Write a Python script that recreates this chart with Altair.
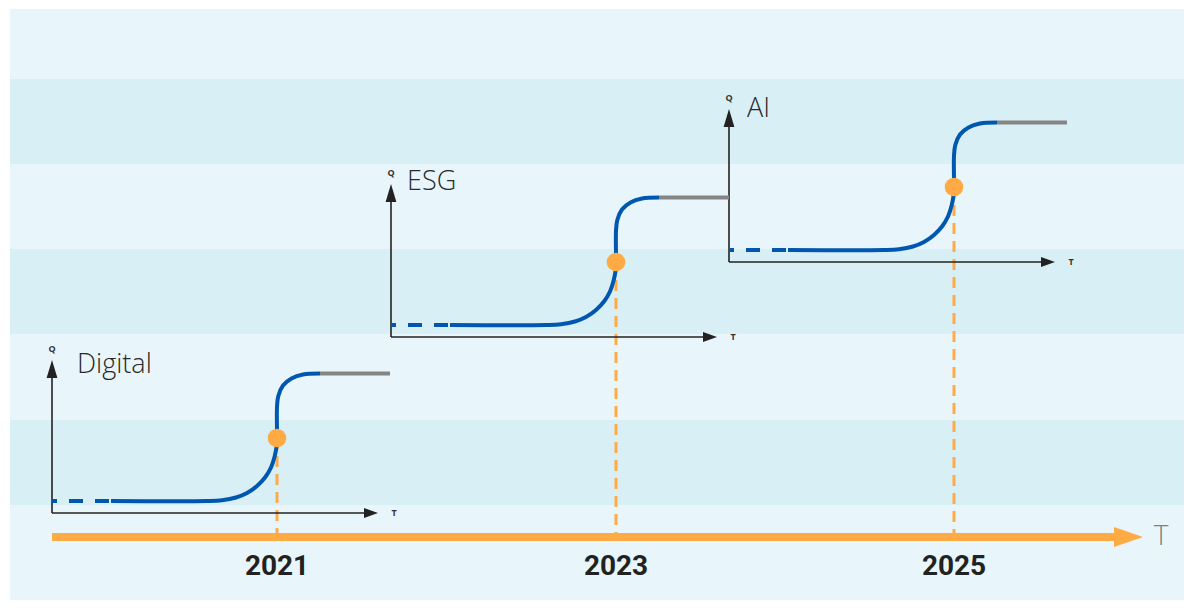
import altair as alt
import pandas as pd

# ---------------- data ----------------
years = [2021, 2023, 2025]
topics = ["Digital", "ESG", "AI"]
# origin of each small Q/T diagram (page pixels)
origin_x = [52, 391, 729]
origin_y = [513, 337, 262]
# title offset of each small diagram relative to its origin
title_dx = [25, 16, 18]
title_dy = [140, 147, 145]

# S-curve template: T offset (right) and Q offset (up) from the small origin
curve_t = [59, 155, 170, 184, 195, 205, 213, 219, 222.5, 224.5, 225, 225, 226.3, 231, 239.5, 251, 268]
curve_q = [12, 12, 12.8, 15.5, 20, 27, 35.5, 45.5, 56, 66, 75, 106, 117, 127.5, 134.5, 138.5, 139.5]
dash_t = [0, 59]          # dashed beginning of the curve
plateau_t = [268, 338]    # grey plateau
plateau_q = 139.5
dot_t, dot_q = 225, 75
q_axis_len = 153
t_axis_len = 326

# background bands (page pixels)
band_top = [9, 79, 164, 249, 334, 420, 505]
band_bottom = [79, 164, 249, 334, 420, 505, 608]
band_shade = ["light", "dark", "light", "dark", "light", "dark", "light"]

timeline_y = 537
timeline_x = [52, 1114]
year_label_y = 567

ORANGE = "#FFAB45"
BLUE = "#0057B0"
GREY = "#858585"
INK = "#222222"

W, H = 1176, 592
X = alt.Scale(domain=[8, 8 + W], nice=False, zero=False)
Y = alt.Scale(domain=[8, 8 + H], nice=False, zero=False, reverse=True)


def xq(f):
    return alt.X(f"{f}:Q", scale=X, axis=None)


def yq(f):
    return alt.Y(f"{f}:Q", scale=Y, axis=None)


# ---------------- tables ----------------
bands = pd.DataFrame({"x0": 10, "x1": 8 + W, "y0": band_top,
                      "y1": [min(b, 8 + H) for b in band_bottom], "shade": band_shade})

rows = []
for i, tp in enumerate(topics):
    ox, oy = origin_x[i], origin_y[i]
    rows.append(dict(
        topic=tp, year=str(years[i]), ox=ox, oy=oy,
        dot_x=ox + dot_t, dot_y=oy - dot_q,
        qhead_y=oy - q_axis_len + 9, thead_x=ox + t_axis_len - 7,
        dash_x0=ox + dash_t[0], dash_x1=ox + dash_t[1], dash_y=oy - curve_q[0],
        pl_x0=ox + plateau_t[0], pl_x1=ox + plateau_t[1], pl_y=oy - plateau_q,
        title_x=ox + title_dx[i], title_y=oy - title_dy[i],
        qlab_y=oy - q_axis_len - 11, tlab_x=ox + t_axis_len + 16,
        tl_y=timeline_y, ylab_y=year_label_y,
    ))
panels = pd.DataFrame(rows)

crows = []
for i, tp in enumerate(topics):
    for k, (t, q) in enumerate(zip(curve_t, curve_q)):
        crows.append(dict(topic=tp, k=k, x=origin_x[i] + t, y=origin_y[i] - q))
curve = pd.DataFrame(crows)

timeline = pd.DataFrame({"x0": [timeline_x[0]], "x1": [timeline_x[1]], "y": [timeline_y],
                         "hx": [timeline_x[1] + 14.5], "lx": [1161], "lab": ["T"]})

# ---------------- layers ----------------
bg = alt.Chart(bands).mark_rect().encode(
    x=xq("x0"), x2="x1", y=yq("y0"), y2="y1",
    color=alt.Color("shade:N", scale=alt.Scale(domain=["light", "dark"], range=["#E8F6FB", "#D9EFF6"]), legend=None),
)

base = alt.Chart(panels)

drop = base.mark_rule(color=ORANGE, strokeWidth=3, strokeDash=[11, 7]).encode(
    x=xq("dot_x"), y=yq("dot_y"), y2="tl_y")

q_axis = base.mark_rule(color=INK, strokeWidth=1.6).encode(x=xq("ox"), y=yq("oy"), y2="qhead_y")
t_axis = base.mark_rule(color=INK, strokeWidth=1.6).encode(x=xq("ox"), x2="thead_x", y=yq("oy"))
q_head = base.mark_point(shape="M-0.6,1L0,-1L0.6,1Z", filled=True, size=324, color=INK, opacity=1,
                         strokeWidth=0).encode(x=xq("ox"), y=yq("qhead_y"))
t_head = base.mark_point(shape="M-1,-0.7L1,0L-1,0.7Z", filled=True, size=196, color=INK, opacity=1,
                         strokeWidth=0).encode(x=xq("thead_x"), y=yq("oy"))

dashes = base.mark_rule(color=BLUE, strokeWidth=4, strokeDash=[14, 12], strokeDashOffset=9).encode(
    x=xq("dash_x0"), x2="dash_x1", y=yq("dash_y"))
plateau = base.mark_rule(color=GREY, strokeWidth=4).encode(x=xq("pl_x0"), x2="pl_x1", y=yq("pl_y"))

scurve = alt.Chart(curve).mark_line(color=BLUE, strokeWidth=4, interpolate="catmull-rom",
                                    strokeJoin="round").encode(
    x=xq("x"), y=yq("y"), order="k:Q", detail="topic:N")

dots = base.mark_circle(color=ORANGE, size=346, opacity=1).encode(x=xq("dot_x"), y=yq("dot_y"))

titles = base.mark_text(align="left", baseline="alphabetic", font="Open Sans", fontSize=27,
                        fontWeight=300, color="#2a2a2a").encode(x=xq("title_x"), y=yq("title_y"), text="topic:N")
q_lab = base.mark_text(align="center", baseline="middle", font="Open Sans", fontSize=9,
                       fontWeight="bold", color="#333333").encode(x=xq("ox"), y=yq("qlab_y"), text=alt.value("Q"))
t_lab = base.mark_text(align="center", baseline="middle", font="Open Sans", fontSize=9,
                       fontWeight="bold", color="#333333").encode(x=xq("tlab_x"), y=yq("oy"), text=alt.value("T"))

year_lab = base.mark_text(align="center", baseline="middle", font="Roboto", fontSize=28,
                          fontWeight="bold", color=INK).encode(x=xq("dot_x"), y=yq("ylab_y"), text="year:N")

tl = alt.Chart(timeline)
tl_line = tl.mark_rule(color=ORANGE, strokeWidth=8).encode(x=xq("x0"), x2="x1", y=yq("y"))
tl_head = tl.mark_point(shape="M-1,-0.69L1,0L-1,0.69Z", filled=True, size=841, color=ORANGE, opacity=1,
                        strokeWidth=0).encode(x=xq("hx"), y=yq("y"))
tl_lab = tl.mark_text(align="center", baseline="middle", font="Open Sans", fontSize=28, fontWeight=300,
                      color="#808080").encode(x=xq("lx"), y=yq("y"), text="lab:N")

chart = alt.layer(
    bg, drop, q_axis, t_axis, q_head, t_head, dashes, plateau, scurve, dots,
    titles, q_lab, t_lab, tl_line, tl_head, tl_lab, year_lab,
).properties(
    width=W, height=H, autosize=alt.AutoSizeParams(type="none"), padding=0,
).configure_view(stroke=None)

chart.save("out.html", embed_options={"renderer": "svg", "actions": False})
